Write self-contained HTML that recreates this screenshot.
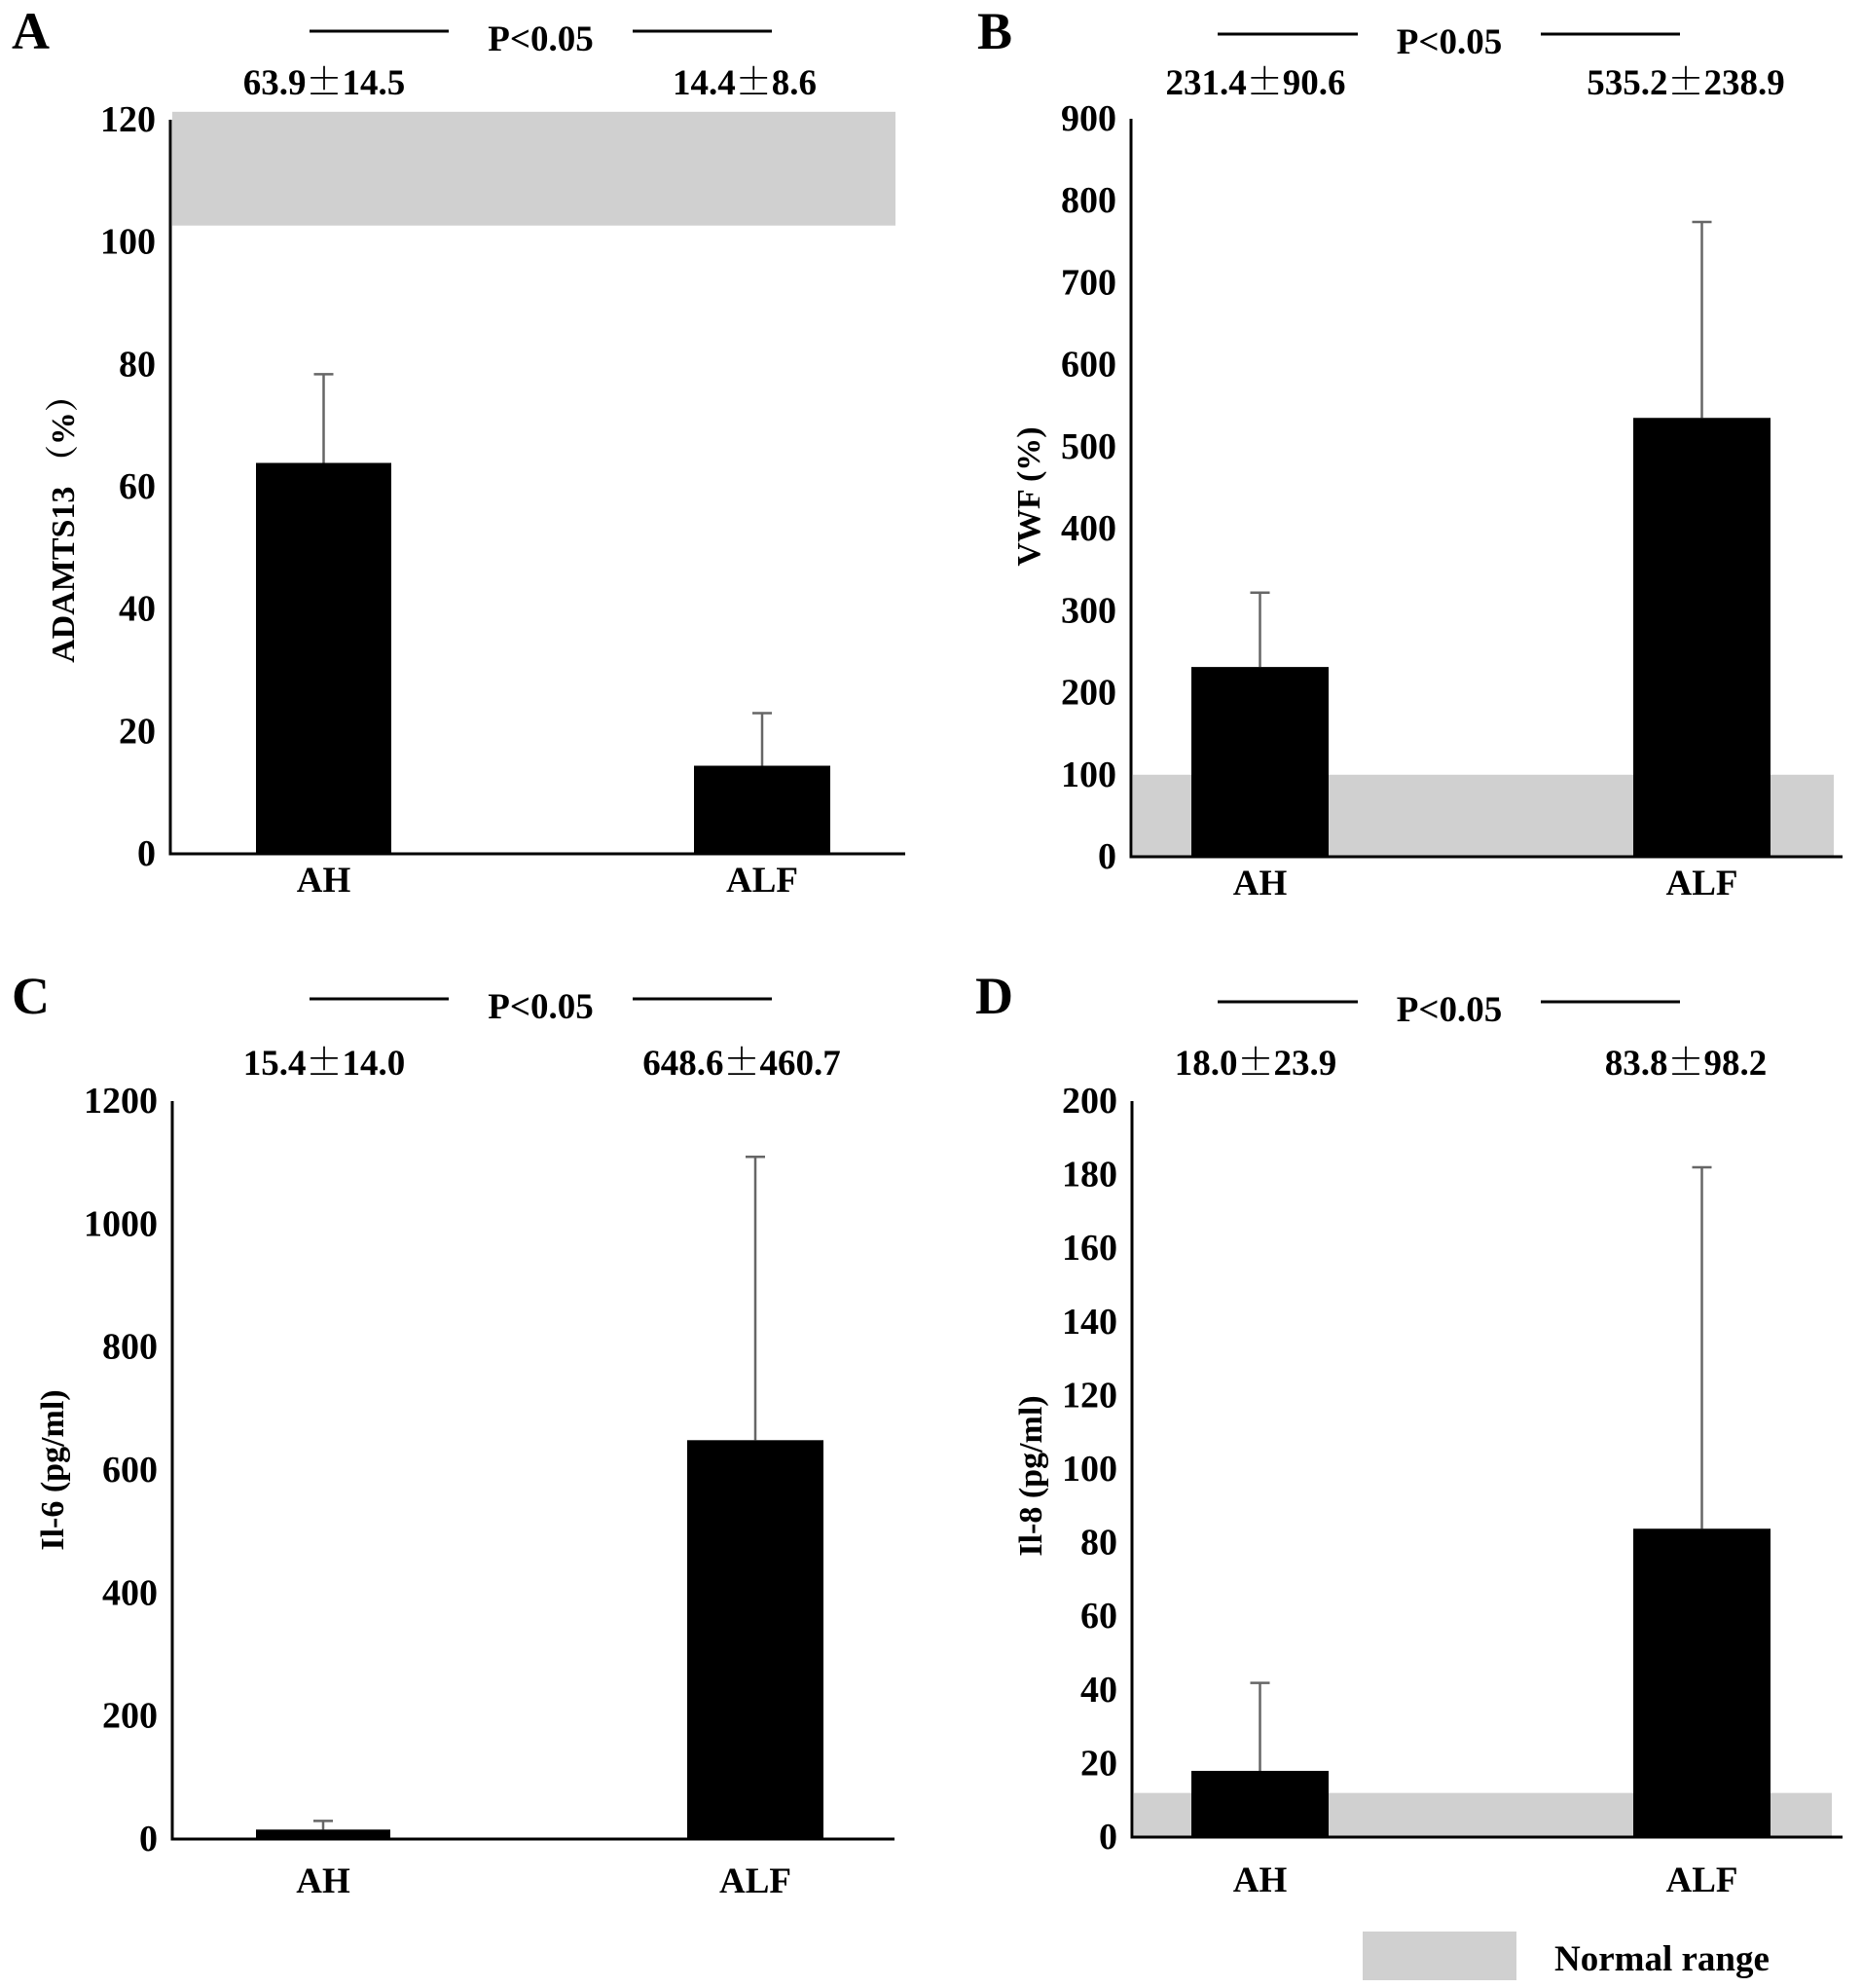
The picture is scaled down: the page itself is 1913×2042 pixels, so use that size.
<!DOCTYPE html>
<html><head><meta charset="utf-8">
<style>
html,body{margin:0;padding:0;background:#fff;}
svg{display:block;}
text{font-family:"Liberation Serif","Noto Serif CJK SC",serif;font-weight:bold;fill:#000;}
.pm{font-family:"Noto Serif CJK SC",serif;}
</style></head>
<body>
<svg id="chart" width="1913" height="2042" viewBox="0 0 1913 2042" xmlns="http://www.w3.org/2000/svg"></svg>
<script>
// ---- data ----
const categories = ["AH", "ALF"];
const adamtsMeans = [63.9, 14.4];
const adamtsSD = [14.5, 8.6];
const adamtsTicks = [0, 20, 40, 60, 80, 100, 120];
const adamtsNormal = [102.7, 121.3];
const vwfMeans = [231.4, 535.2];
const vwfSD = [90.6, 238.9];
const vwfTicks = [0, 100, 200, 300, 400, 500, 600, 700, 800, 900];
const vwfNormal = [0, 100];
const il6Means = [15.4, 648.6];
const il6SD = [14.0, 460.7];
const il6Ticks = [0, 200, 400, 600, 800, 1000, 1200];
const il8Means = [18.0, 83.8];
const il8SD = [23.9, 98.2];
const il8Ticks = [0, 20, 40, 60, 80, 100, 120, 140, 160, 180, 200];
const il8Normal = [0, 12];
const statLabelsA = ["63.9±14.5", "14.4±8.6"];
const statLabelsB = ["231.4±90.6", "535.2±238.9"];
const statLabelsC = ["15.4±14.0", "648.6±460.7"];
const statLabelsD = ["18.0±23.9", "83.8±98.2"];

const NS = "http://www.w3.org/2000/svg";
const svg = document.getElementById("chart");
function mk(tag, attrs, parent, txt) {
  const e = document.createElementNS(NS, tag);
  for (const k in attrs) e.setAttribute(k, attrs[k]);
  if (txt !== undefined) e.textContent = txt;
  (parent || svg).appendChild(e);
  return e;
}

function panel(cfg) {
  const g = mk("g", {});
  
  
  const ymax = cfg.ticks[cfg.ticks.length - 1];
  const y = v => cfg.y0 - (v / ymax) * (cfg.y0 - cfg.ytop);

  if (cfg.normal) {
    const b = mk("rect", {x: cfg.ax + 2, y: y(cfg.normal[1]), width: cfg.bandRight - cfg.ax - 2, height: y(cfg.normal[0]) - y(cfg.normal[1]), fill: "#d0d0d0"}, g);
    
    
  }
  cfg.means.forEach((m, i) => {
    const [x1, x2] = cfg.bars[i];
    const cx = (x1 + x2) / 2;
    const eb = mk("g", {}, g);
    
    
    mk("line", {x1: cx, x2: cx, y1: y(m), y2: y(m + cfg.sd[i]), stroke: "#666", "stroke-width": 2.5}, eb);
    mk("line", {x1: cx - 10, x2: cx + 10, y1: y(m + cfg.sd[i]), y2: y(m + cfg.sd[i]), stroke: "#666", "stroke-width": 2.5}, eb);
    const r = mk("rect", {x: x1, y: y(m), width: x2 - x1, height: cfg.y0 - y(m), fill: "#000"}, g);
    
    
    const cl = mk("text", {x: cx, y: cfg.y0 + cfg.catOff, "font-size": 37, "text-anchor": "middle"}, g, categories[i]);
    
    
    const sl = mk("text", {x: cfg.statX[i], y: cfg.statY, "font-size": 37, "text-anchor": "middle"}, g);
    
    
    const parts = cfg.stats[i].split("±");
    mk("tspan", {}, sl, parts[0]);
    mk("tspan", {"class": "pm"}, sl, "±");
    mk("tspan", {}, sl, parts[1]);
  });
  const ya = mk("line", {x1: cfg.ax, x2: cfg.ax, y1: cfg.ytop, y2: cfg.y0 + 1.5, stroke: "#000", "stroke-width": 3}, g);
  
  
  const xa = mk("line", {x1: cfg.ax - 1.5, x2: cfg.axRight, y1: cfg.y0, y2: cfg.y0, stroke: "#000", "stroke-width": 3}, g);
  
  
  cfg.ticks.forEach(t => {
    const tl = mk("text", {x: cfg.ax - 15, y: y(t) + 12, "font-size": 38, "text-anchor": "end"}, g, String(t));
    
    
  });
  const yt = mk("text", {x: 0, y: 0, "font-size": 34, "text-anchor": "middle", transform: `translate(${cfg.titleX},${cfg.titleY}) rotate(-90)`}, g, cfg.title);
  
  
  const lt = mk("text", {x: cfg.letterX, y: cfg.letterY, "font-size": 54}, g, cfg.letter);
  
  
  const sg = mk("g", {}, g);
  
  
  mk("line", {x1: cfg.sig[0], x2: cfg.sig[1], y1: cfg.sigLineY, y2: cfg.sigLineY, stroke: "#000", "stroke-width": 3}, sg);
  mk("line", {x1: cfg.sig[2], x2: cfg.sig[3], y1: cfg.sigLineY, y2: cfg.sigLineY, stroke: "#000", "stroke-width": 3}, sg);
  mk("text", {x: (cfg.sig[1] + cfg.sig[2]) / 2, y: cfg.sigTextY, "font-size": 37, "text-anchor": "middle"}, sg, "P<0.05");
}

panel({letter: "A", letterX: 12, letterY: 50, ax: 175, y0: 877, ytop: 123, axRight: 930, bandRight: 920,
  bars: [[263, 402], [713, 853]], means: adamtsMeans, sd: adamtsSD, ticks: adamtsTicks, normal: adamtsNormal,
  stats: statLabelsA, statX: [333, 765], statY: 97, catOff: 39, title: "ADAMTS13 （%）", titleX: 76, titleY: 535,
  sig: [318, 461, 650, 793], sigLineY: 32, sigTextY: 52});
panel({letter: "B", letterX: 1004, letterY: 50, ax: 1167 - 5, y0: 880, ytop: 122, axRight: 1893, bandRight: 1884,
  bars: [[1228 - 4, 1369 - 4], [1682 - 4, 1823 - 4]], means: vwfMeans, sd: vwfSD, ticks: vwfTicks, normal: vwfNormal,
  stats: statLabelsB, statX: [1290, 1732], statY: 97, catOff: 39, title: "VWF (%)", titleX: 1068, titleY: 510,
  sig: [1251, 1395, 1583, 1726], sigLineY: 35, sigTextY: 55});
panel({letter: "C", letterX: 12, letterY: 1041, ax: 177, y0: 1889, ytop: 1131, axRight: 919, bandRight: 0,
  bars: [[263, 401], [706, 846]], means: il6Means, sd: il6SD, ticks: il6Ticks, normal: null,
  stats: statLabelsC, statX: [333, 762], statY: 1104, catOff: 55, title: "Il-6 (pg/ml)", titleX: 65, titleY: 1510,
  sig: [318, 461, 650, 793], sigLineY: 1026, sigTextY: 1046});
panel({letter: "D", letterX: 1002, letterY: 1041, ax: 1168 - 5, y0: 1887, ytop: 1131, axRight: 1893, bandRight: 1882,
  bars: [[1224, 1365], [1678, 1819]], means: il8Means, sd: il8SD, ticks: il8Ticks, normal: il8Normal,
  stats: statLabelsD, statX: [1290, 1732], statY: 1104, catOff: 56, title: "Il-8 (pg/ml)", titleX: 1070, titleY: 1516,
  sig: [1251, 1395, 1583, 1726], sigLineY: 1029, sigTextY: 1049});

const lg = mk("g", {});


mk("rect", {x: 1400, y: 1984, width: 158, height: 50, fill: "#d0d0d0"}, lg);
mk("text", {x: 1597, y: 2024, "font-size": 37}, lg, "Normal range");
</script>
</body></html>
